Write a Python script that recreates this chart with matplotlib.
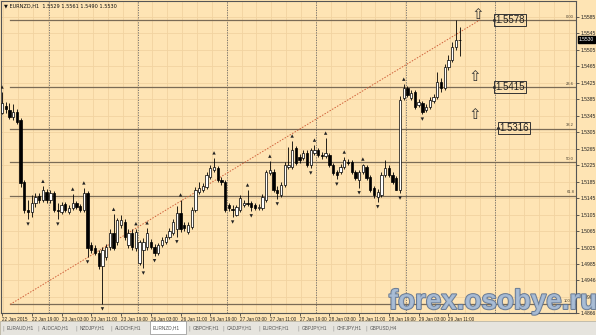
import matplotlib
matplotlib.use('Agg')
import matplotlib.pyplot as plt
import matplotlib.patheffects as pe
from matplotlib.patches import Rectangle
from matplotlib.transforms import blended_transform_factory

# EURNZD H1 candles (open, high, low, close)
opens = [1.5352, 1.5369, 1.5359, 1.5342, 1.5354, 1.5335, 1.5184, 1.5116, 1.5112, 1.5133,
         1.5150, 1.5141, 1.5160, 1.5141, 1.5157, 1.5116, 1.5112, 1.5131, 1.5112, 1.5121,
         1.5133, 1.5126, 1.5116, 1.5157, 1.5031, 1.5024, 1.5012, 1.4980, 1.5002, 1.5026,
         1.5061, 1.5039, 1.5080, 1.5087, 1.5031, 1.5061, 1.5024, 1.4987, 1.5019, 1.5026,
         1.5039, 1.5026, 1.5012, 1.5031, 1.5039, 1.5051, 1.5061, 1.5069, 1.5109, 1.5080,
         1.5063, 1.5075, 1.5116, 1.5160, 1.5165, 1.5172, 1.5196, 1.5213, 1.5218, 1.5189,
         1.5184, 1.5128, 1.5119, 1.5104, 1.5116, 1.5128, 1.5133, 1.5133, 1.5128, 1.5121,
         1.5121, 1.5141, 1.5206, 1.5209, 1.5165, 1.5153, 1.5177, 1.5221, 1.5221, 1.5267,
         1.5245, 1.5243, 1.5255, 1.5225, 1.5255, 1.5262, 1.5250, 1.5248, 1.5250, 1.5225,
         1.5209, 1.5209, 1.5221, 1.5233, 1.5233, 1.5209, 1.5189, 1.5209, 1.5221, 1.5196,
         1.5170, 1.5148, 1.5153, 1.5201, 1.5218, 1.5201, 1.5194, 1.5165, 1.5388, 1.5413,
         1.5388, 1.5403, 1.5371, 1.5376, 1.5359, 1.5366, 1.5381, 1.5391, 1.5427, 1.5413,
         1.5464, 1.5481, 1.5512, 1.5529]
highs = [1.5403, 1.5379, 1.5376, 1.5373, 1.5361, 1.5340, 1.5189, 1.5141, 1.5153, 1.5157,
         1.5157, 1.5174, 1.5167, 1.5165, 1.5162, 1.5133, 1.5136, 1.5136, 1.5128, 1.5155,
         1.5138, 1.5131, 1.5170, 1.5162, 1.5039, 1.5031, 1.5019, 1.5026, 1.5034, 1.5069,
         1.5106, 1.5097, 1.5104, 1.5094, 1.5069, 1.5069, 1.5071, 1.5044, 1.5049, 1.5073,
         1.5046, 1.5034, 1.5036, 1.5051, 1.5058, 1.5073, 1.5094, 1.5126, 1.5141, 1.5087,
         1.5087, 1.5124, 1.5172, 1.5184, 1.5182, 1.5209, 1.5225, 1.5243, 1.5223, 1.5196,
         1.5189, 1.5133, 1.5128, 1.5128, 1.5153, 1.5141, 1.5165, 1.5138, 1.5133, 1.5131,
         1.5155, 1.5213, 1.5235, 1.5216, 1.5174, 1.5184, 1.5233, 1.5269, 1.5284, 1.5272,
         1.5252, 1.5262, 1.5262, 1.5267, 1.5274, 1.5267, 1.5257, 1.5291, 1.5255, 1.5230,
         1.5213, 1.5228, 1.5245, 1.5240, 1.5238, 1.5213, 1.5213, 1.5228, 1.5225, 1.5201,
         1.5174, 1.5167, 1.5209, 1.5238, 1.5225, 1.5209, 1.5199, 1.5393, 1.5422, 1.5418,
         1.5408, 1.5408, 1.5386, 1.5381, 1.5373, 1.5391, 1.5398, 1.5451, 1.5437, 1.5471,
         1.5493, 1.5524, 1.5578, 1.5561]
lows = [1.5349, 1.5352, 1.5337, 1.5335, 1.5325, 1.5172, 1.5109, 1.5094, 1.5099, 1.5124,
        1.5133, 1.5136, 1.5133, 1.5133, 1.5112, 1.5094, 1.5107, 1.5112, 1.5107, 1.5116,
        1.5119, 1.5112, 1.5112, 1.5002, 1.5012, 1.5007, 1.4973, 1.4888, 1.4995, 1.5019,
        1.5019, 1.5031, 1.5073, 1.5044, 1.5024, 1.5019, 1.5017, 1.4982, 1.4975, 1.5019,
        1.5021, 1.5005, 1.5007, 1.5026, 1.5034, 1.5046, 1.5056, 1.5051, 1.5063, 1.5066,
        1.5058, 1.5070, 1.5112, 1.5155, 1.5160, 1.5167, 1.5191, 1.5209, 1.5184, 1.5177,
        1.5112, 1.5114, 1.5099, 1.5102, 1.5112, 1.5124, 1.5126, 1.5114, 1.5116, 1.5116,
        1.5116, 1.5136, 1.5201, 1.5160, 1.5143, 1.5148, 1.5172, 1.5216, 1.5216, 1.5225,
        1.5230, 1.5238, 1.5221, 1.5218, 1.5250, 1.5245, 1.5240, 1.5243, 1.5221, 1.5201,
        1.5191, 1.5204, 1.5216, 1.5225, 1.5204, 1.5189, 1.5170, 1.5204, 1.5189, 1.5160,
        1.5145, 1.5136, 1.5148, 1.5196, 1.5196, 1.5179, 1.5165, 1.5157, 1.5383, 1.5391,
        1.5383, 1.5361, 1.5366, 1.5349, 1.5354, 1.5361, 1.5376, 1.5386, 1.5403, 1.5408,
        1.5456, 1.5476, 1.5505, 1.5490]
closes = [1.5376, 1.5361, 1.5342, 1.5354, 1.5330, 1.5182, 1.5116, 1.5112, 1.5133, 1.5148,
          1.5141, 1.5165, 1.5141, 1.5157, 1.5116, 1.5114, 1.5128, 1.5116, 1.5121, 1.5133,
          1.5124, 1.5116, 1.5157, 1.5024, 1.5019, 1.5012, 1.4980, 1.5019, 1.5026, 1.5061,
          1.5024, 1.5092, 1.5092, 1.5051, 1.5061, 1.5026, 1.5063, 1.5039, 1.5039, 1.5061,
          1.5026, 1.5012, 1.5031, 1.5044, 1.5051, 1.5066, 1.5087, 1.5109, 1.5069, 1.5073,
          1.5080, 1.5116, 1.5165, 1.5170, 1.5174, 1.5201, 1.5218, 1.5221, 1.5189, 1.5184,
          1.5116, 1.5121, 1.5116, 1.5124, 1.5145, 1.5133, 1.5131, 1.5124, 1.5121, 1.5124,
          1.5148, 1.5209, 1.5213, 1.5165, 1.5157, 1.5177, 1.5225, 1.5225, 1.5262, 1.5230,
          1.5238, 1.5255, 1.5225, 1.5262, 1.5262, 1.5250, 1.5248, 1.5255, 1.5225, 1.5206,
          1.5201, 1.5221, 1.5238, 1.5230, 1.5209, 1.5194, 1.5209, 1.5225, 1.5194, 1.5165,
          1.5153, 1.5160, 1.5201, 1.5218, 1.5201, 1.5184, 1.5165, 1.5383, 1.5413, 1.5396,
          1.5400, 1.5366, 1.5379, 1.5354, 1.5366, 1.5383, 1.5391, 1.5427, 1.5413, 1.5464,
          1.5481, 1.5512, 1.5529, 1.5530]

# Bill Williams fractals (bar numbers)
up_fractals = [0, 11, 19, 22, 30, 36, 39, 48, 57, 66, 72, 78, 84, 87, 92, 97, 108]
down_fractals = [7, 15, 23, 27, 38, 41, 47, 62, 67, 74, 83, 90, 96, 101, 107, 113]

# time axis: a label every 8 bars, day separators
time_labels = ['22 Jan 2015', '22 Jan 19:00', '23 Jan 03:00', '23 Jan 11:00', '23 Jan 19:00',
               '26 Jan 03:00', '26 Jan 11:00', '26 Jan 19:00', '27 Jan 03:00', '27 Jan 11:00',
               '27 Jan 19:00', '28 Jan 03:00', '28 Jan 11:00', '28 Jan 19:00', '29 Jan 03:00',
               '29 Jan 11:00']
day_starts = [13, 37, 61, 85, 109, 133]

price_ticks = [1.5585, 1.5545, 1.5505, 1.5465, 1.5425, 1.5385, 1.5345, 1.5305, 1.5265, 1.5225,
               1.5185, 1.5145, 1.5105, 1.5065, 1.5025, 1.4985, 1.4946, 1.4905, 1.4866]

# Fibonacci retracement
fib_high = 1.5578
fib_low = 1.4887
fib_levels = [0.0, 23.6, 38.2, 50.0, 61.8, 100.0]
fib_start, fib_end = 2.2, 128.5

# price tags and hollow arrows drawn on the chart
tag_prices = [1.5578, 1.5415, 1.5316]
tag_bars = [132.5, 132.5, 133.6]
arrow_bars = [128.0, 127.2, 127.2]
arrow_prices = [1.5590, 1.5440, 1.5348]

tabs = ['EURAUD,H1', 'AUDCAD,H1', 'NZDJPY,H1', 'AUDCHF,H1', 'EURNZD,H1', 'GBPCHF,H1',
        'CADJPY,H1', 'EURCHF,H1', 'GBPJPY,H1', 'CHFJPY,H1', 'GBPUSD,H4']
tab_x = [7, 42, 80, 115, 153, 193, 227, 263, 302, 337, 370]

BG = '#fee4b4'
GRID = '#f1d3a0'
LINE = '#7a6b55'
SMALL = 'Liberation Sans'
W, H = 596, 335


def box(x0, y0, x1, y1):
    return [x0 / W, 1 - y1 / H, (x1 - x0) / W, (y1 - y0) / H]


fig = plt.figure(figsize=(W / 100, H / 100), dpi=100, facecolor=BG)
ax = fig.add_axes(box(1, 1, 576, 313))
ax.set_facecolor(BG)
n = len(opens)
bars = list(range(n))
ax.set_xlim(-0.27, 154.3)
ax.set_ylim(1.4866, 1.56239)

# grid
for g in range(0, 156, 4):
    ax.axvline(g + 0.4, color=GRID, lw=0.6, zorder=0)
for p in price_ticks:
    ax.axhline(p, color=GRID, lw=0.6, zorder=0)

# day separators
for d in day_starts:
    ax.axvline(d - 0.5, color='#6a6a6a', lw=0.6, ls=(0, (1.5, 1.5)), zorder=1)

# fibo
rng = fib_high - fib_low
for lv in fib_levels:
    p = fib_high - rng * lv / 100
    ax.plot([fib_start, 154.3], [p, p], color=LINE, lw=0.9, zorder=2)
    ax.text(153.8, p + 0.0003, f'{lv:.1f}' if lv else '0.00', fontsize=3, family=SMALL,
            ha='right', va='bottom', color='#4a4030', zorder=3)
ax.plot([fib_start, fib_end], [fib_low, fib_high], color='#d0603a', lw=0.7,
        ls=(0, (1.5, 1.5)), zorder=2)

# candles
ax.vlines(bars, lows, highs, color='black', lw=0.6, zorder=4)
body_bottom = [min(o, c) for o, c in zip(opens, closes)]
body_height = [max(abs(c - o), 0.00004) for o, c in zip(opens, closes)]
body_color = ['white' if c >= o else 'black' for o, c in zip(opens, closes)]
ax.bar(bars, body_height, bottom=body_bottom, width=0.62, color=body_color,
       edgecolor='black', lw=0.5, zorder=5)

# fractals
ax.scatter(up_fractals, [highs[i] + 0.0012 for i in up_fractals], marker='^', s=6,
           facecolor='#222222', edgecolor='none', zorder=6)
ax.scatter(down_fractals, [lows[i] - 0.0012 for i in down_fractals], marker='v', s=6,
           facecolor='#222222', edgecolor='none', zorder=6)

# price tags and arrows
for b, p in zip(tag_bars, tag_prices):
    ax.plot(b - 0.3, p, marker='o', ms=1.2, color='#333333', zorder=7)
    ax.text(b, p, f'{p:.4f}', fontsize=7, ha='left', va='center', color='#222222',
            family='Liberation Sans', zorder=7,
            bbox=dict(boxstyle='square,pad=0.12', fc='none', ec='#333333', lw=0.7))
for b, p in zip(arrow_bars, arrow_prices):
    ax.text(b, p, '\u21e7', fontsize=11, ha='center', va='center', color='#333333', zorder=7)

# axes styling
for s in ax.spines.values():
    s.set_color('#555555')
    s.set_linewidth(0.8)
ax.yaxis.tick_right()
ax.set_yticks(price_ticks)
ax.set_yticklabels([f'{p:.4f}' for p in price_ticks], fontsize=3.6, family=SMALL)
ax.set_xticks(list(range(0, 8 * len(time_labels), 8)))
ax.set_xticklabels(time_labels, fontsize=3.3, ha='left', family=SMALL)
ax.tick_params(axis='both', length=2, width=0.5, pad=1, colors='#222222')

# current price tag
tr = blended_transform_factory(ax.transAxes, ax.transData)
ax.text(1.005, closes[-1], f'{closes[-1]:.4f}', transform=tr, fontsize=3.6, color='white',
        family=SMALL, ha='left', va='center',
        bbox=dict(boxstyle='square,pad=0.25', fc='black', ec='black'))

# header
fig.text(4 / W, 1 - 6 / H, '\u25bc EURNZD,H1  %.4f %.4f %.4f %.4f' % (opens[-1], highs[-1], lows[-1], closes[-1]),
         fontsize=3.6, va='center', ha='left', color='#111111')

# tab bar
fig.patches.append(Rectangle((0, 0), 1, 14 / H, transform=fig.transFigure, fc='#e6e4de',
                             ec='#b0aca0', lw=0.5, zorder=0))
fig.patches.append(Rectangle((150 / W, 1 / H), 36 / W, 13 / H, transform=fig.transFigure,
                             fc='white', ec='#909090', lw=0.5, zorder=1))
for name, x in zip(tabs, tab_x):
    fig.text(x / W, 1 - 328 / H, name, fontsize=3.4, family=SMALL, va='center', ha='left',
             color='#555555')
    if name != 'EURNZD,H1':
        fig.text((x - 5) / W, 1 - 328 / H, '|', fontsize=3.5, va='center', ha='left', color='#888888')

# watermark
fig.text(493 / W, 1 - 302 / H, 'forex.osobye.ru', fontsize=20, fontweight='bold',
         family='Liberation Sans', color='#a9bdd6', ha='center', va='center', alpha=0.9,
         path_effects=[pe.withStroke(linewidth=1.4, foreground='#5a7090')])

fig.savefig('out.png', dpi=100, facecolor=BG)
